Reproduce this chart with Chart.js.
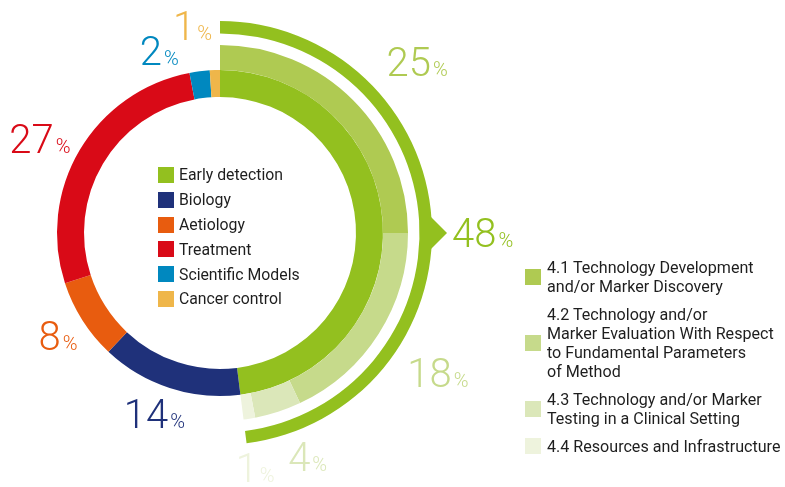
<!DOCTYPE html>
<html>
<head>
<meta charset="utf-8">
<script src="https://cdn.jsdelivr.net/npm/chart.js@4.4.1/dist/chart.umd.min.js"></script>
<style>
  html, body { margin: 0; padding: 0; background: #fff; }
  #wrap { position: relative; width: 785px; height: 487px; overflow: hidden;
          font-family: Roboto, 'Noto Sans', sans-serif; color: #1e1e1e; }
  #wrap canvas { position: absolute; left: 0; top: 0; }
  .legend { position: absolute; }
  .legend .row { display: flex; align-items: center; }
  .legend .sw { width: 16px; height: 16px; flex: none; }
  .main-legend { left: 158px; top: 162.6px; font-size: 15.8px; }
  .main-legend .row { height: 24.8px; }
  .main-legend .sw { margin-right: 5px; }
  .sub-legend { left: 525px; top: 257.5px; font-size: 16.1px; }
  .sub-legend .row { line-height: 19px; margin-bottom: 9px; }
  .sub-legend .sw { margin-right: 6px; }
</style>
</head>
<body>
<div id="wrap">
  <canvas id="donut"></canvas>
  <div class="legend main-legend" id="mainLegend"></div>
  <div class="legend sub-legend" id="subLegend"></div>
</div>
<script>
/* ===============================
   DATA
================================ */
const categories = ['Early detection', 'Biology', 'Aetiology', 'Treatment', 'Scientific Models', 'Cancer control'];
const categoryShares = [48, 14, 8, 27, 2, 1];

const subCategories = [
    ['4.1 Technology Development', 'and/or Marker Discovery'],
    ['4.2 Technology and/or', 'Marker Evaluation With Respect', 'to Fundamental Parameters', 'of Method'],
    ['4.3 Technology and/or Marker', 'Testing in a Clinical Setting'],
    ['4.4 Resources and Infrastructure']
];
const subShares = [25, 18, 4, 1];

/* ===============================
   STYLE
================================ */
const categoryColors = ['#93c01f', '#1f317a', '#e85c0f', '#d90a17', '#0088bf', '#efb64a'];
const subColors = ['#afca52', '#c6da8b', '#dbe7b9', '#eef3dd'];
const NONE = 'rgba(0,0,0,0)';

const NUM_FONT = '300 40px Roboto';
const PCT_FONT = '300 20px Roboto';

// per label: angle nudge (deg) and gap from the ring it sits outside
const mainLabelStyle = [
    { arrow: true, gap: 5 },
    { nudge: 1.9, gap: 6 },
    { nudge: 0, gap: 5 },
    { nudge: -3.1, gap: 6.5 },
    { nudge: -11.3, gap: 9 },
    { nudge: -5.8, gap: 29 }
];
const subLabelStyle = [
    { nudge: 4, gap: 17 },
    { nudge: 0.4, gap: 14 },
    { nudge: -3.4, gap: 8 },
    { nudge: 0.5, gap: 9 }
];
const ARROW_ANGLE = 90;

/* ===============================
   LABEL PLUGIN
================================ */
function drawPct(ctx, cx, cy, value, color, thetaDeg, ringR, gap) {
    const txt = String(value);
    ctx.font = NUM_FONT;
    const wn = ctx.measureText(txt).width;
    ctx.font = PCT_FONT;
    const wp = ctx.measureText('%').width;
    const w = wn + 2 + wp, h = 28;
    const t = thetaDeg * Math.PI / 180;
    const s = Math.sin(t), c = Math.cos(t);
    const d = ringR + gap + Math.abs(w / 2 * s) + Math.abs(h / 2 * c);
    const x = cx + d * s - w / 2;
    const base = cy - d * c + h / 2;

    ctx.fillStyle = color;
    ctx.textBaseline = 'alphabetic';
    ctx.textAlign = 'left';
    ctx.font = NUM_FONT;
    ctx.fillText(txt, x, base);
    ctx.font = PCT_FONT;
    ctx.fillText('%', x + wn + 2, base);
}

function midDeg(arc) {
    return ((arc.startAngle + arc.endAngle) / 2) * 180 / Math.PI + 90;
}

const pctLabels = {
    id: 'pctLabels',
    afterDatasetsDraw(chart) {
        const ctx = chart.ctx;
        const bracket = chart.getDatasetMeta(0).data[0];
        const cx = bracket.x, cy = bracket.y;
        const edge = bracket.outerRadius;
        const arrowDepth = 15;

        ctx.save();

        // arrow on the bracket
        const a = ARROW_ANGLE * Math.PI / 180;
        const ux = Math.sin(a), uy = -Math.cos(a);
        const px = -uy, py = ux;
        const bx = cx + (edge - 1) * ux, by = cy + (edge - 1) * uy;
        ctx.fillStyle = categoryColors[0];
        ctx.beginPath();
        ctx.moveTo(bx - px * 16, by - py * 16);
        ctx.lineTo(cx + (edge + arrowDepth) * ux, cy + (edge + arrowDepth) * uy);
        ctx.lineTo(bx + px * 16, by + py * 16);
        ctx.closePath();
        ctx.fill();

        const mainMeta = chart.getDatasetMeta(3);
        mainMeta.data.forEach((arc, i) => {
            const st = mainLabelStyle[i];
            if (st.arrow) {
                drawPct(ctx, cx, cy, categoryShares[i], categoryColors[i], ARROW_ANGLE, edge + arrowDepth, st.gap);
            } else {
                drawPct(ctx, cx, cy, categoryShares[i], categoryColors[i], midDeg(arc) + st.nudge, arc.outerRadius, st.gap);
            }
        });

        const subMeta = chart.getDatasetMeta(2);
        subShares.forEach((v, i) => {
            const arc = subMeta.data[i];
            const st = subLabelStyle[i];
            drawPct(ctx, cx, cy, v, subColors[i], midDeg(arc) + st.nudge, edge, st.gap);
        });

        ctx.restore();
    }
};

/* ===============================
   CHART
================================ */
const restOfSub = 100 - subShares.reduce((a, b) => a + b, 0);
const restOfBracket = 100 - categoryShares[0];

new Chart(document.getElementById('donut'), {
    type: 'doughnut',
    data: {
        labels: categories,
        datasets: [
            {   // bracket round early detection
                data: [categoryShares[0], restOfBracket],
                backgroundColor: [categoryColors[0], NONE],
                weight: 12.5
            },
            {   // white gap
                data: [100],
                backgroundColor: [NONE],
                weight: 11.5
            },
            {   // early detection breakdown
                data: [...subShares, restOfSub],
                backgroundColor: [...subColors, NONE],
                weight: 25
            },
            {
                data: categoryShares,
                backgroundColor: categoryColors,
                weight: 27
            }
        ]
    },
    options: {
        responsive: true,
        maintainAspectRatio: false,
        animation: false,
        events: [],
        cutout: 136,
        borderWidth: 0,
        datasets: { doughnut: { borderWidth: 0 } },
        layout: { padding: { left: 8, top: 21, right: 353, bottom: 42 } },
        plugins: {
            legend: { display: false },
            tooltip: { enabled: false }
        }
    },
    plugins: [pctLabels]
});

/* ===============================
   LEGENDS
================================ */
const mainLegend = document.getElementById('mainLegend');
categories.forEach((name, i) => {
    const row = document.createElement('div');
    row.className = 'row';
    row.innerHTML = `<span class="sw" style="background:${categoryColors[i]}"></span><span>${name}</span>`;
    mainLegend.appendChild(row);
});

const subLegend = document.getElementById('subLegend');
subCategories.forEach((lines, i) => {
    const row = document.createElement('div');
    row.className = 'row';
    row.innerHTML = `<span class="sw" style="background:${subColors[i]}"></span><span>${lines.join('<br>')}</span>`;
    subLegend.appendChild(row);
});
</script>
</body>
</html>
